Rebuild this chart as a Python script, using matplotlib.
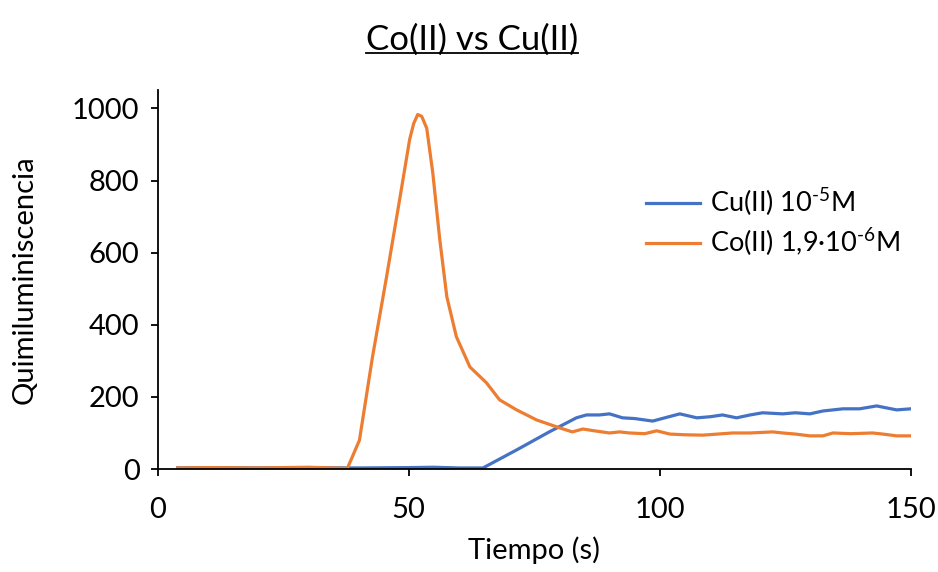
import matplotlib.pyplot as plt
from matplotlib.lines import Line2D

plt.rcParams['font.family'] = ['Lato', 'DejaVu Sans']
plt.rcParams['mathtext.default'] = 'regular'

# Cu(II) 10^-5 M
t_cu = [4, 10, 20, 30, 40, 50, 55, 60, 64.8, 71.5, 78, 83.4, 85.4, 88, 90, 92.6, 95, 98.6,
        101, 104, 107.4, 110, 112.5, 115.3, 118, 120.5, 124.5, 127, 129.9, 132.5, 136.5,
        139.8, 143.2, 145, 147.2, 150]
y_cu = [3, 4, 3, 4, 3, 4, 5, 3, 3, 53, 103, 142, 150, 150, 153, 142, 140, 133,
        142, 153, 142, 145, 150, 142, 150, 156, 153, 156, 153, 161, 167,
        167, 175, 170, 164, 167]

# Co(II) 1,9·10^-6 M
t_co = [4, 10, 20, 30, 35, 37.8, 40.2, 42.8, 45.6, 48.2, 50.2, 51.0, 51.8, 52.6, 53.6, 54.8,
        56.2, 57.6, 59.5, 62.2, 65.5, 68.1, 71.5, 75.5, 80.1, 82.6, 84.7, 87, 90, 92, 94, 97,
        99.4, 102, 105, 108.6, 114.5, 118, 122.5, 124.5, 127, 129.9, 132.5, 134.5, 138, 142.4,
        144.4, 147.2, 150]
y_co = [3, 4, 3, 5, 3, 2, 80, 311, 533, 747, 914, 958, 983, 978, 945, 822,
        636, 478, 367, 283, 239, 192, 164, 136, 114, 103, 111, 106, 100, 103, 100, 98,
        106, 97, 95, 94, 100, 100, 103, 100, 97, 92, 92, 100, 98, 100,
        97, 92, 92]

fig = plt.figure(figsize=(9.38, 5.72), dpi=100)
ax = fig.add_axes([0.168, 0.18, 0.803, 0.662])

ax.plot(t_cu, y_cu, color='#4472C4', lw=2.3, label='Cu(II) 10$^{\u20105}$M')
ax.plot(t_co, y_co, color='#ED7D31', lw=2.3, label='Co(II) 1,9·10$^{\u20106}$M')

ax.set_xlim(0, 150)
ax.set_ylim(0, 1050)
ax.set_xticks([0, 50, 100, 150])
ax.set_yticks([0, 200, 400, 600, 800, 1000])
ax.spines['top'].set_visible(False)
ax.spines['right'].set_visible(False)
ax.spines['left'].set_linewidth(1.3)
ax.spines['bottom'].set_linewidth(1.3)
ax.tick_params(labelsize=21, length=5, width=1.3, colors='black')
ax.tick_params(axis='x', pad=15)
ax.tick_params(axis='y', pad=8)
ax.set_xlabel('Tiempo (s)', fontsize=21, labelpad=10)
ax.set_ylabel('Quimiluminiscencia', fontsize=21, labelpad=25)

ax.legend(loc='center left', bbox_to_anchor=(0.616, 0.651), frameon=False, fontsize=19.5,
          handlelength=2.0, handletextpad=0.37, labelspacing=0.3)

title = fig.text(0.503, 0.93, 'Co(II) vs Cu(II)', ha='center', va='center', fontsize=25)
fig.canvas.draw()
bb = title.get_window_extent().transformed(fig.transFigure.inverted())
fig.add_artist(Line2D([bb.x0, bb.x1], [bb.y0 + 0.006, bb.y0 + 0.006], color='black', lw=1.3,
                      transform=fig.transFigure))

fig.savefig('out.png', dpi=100)
